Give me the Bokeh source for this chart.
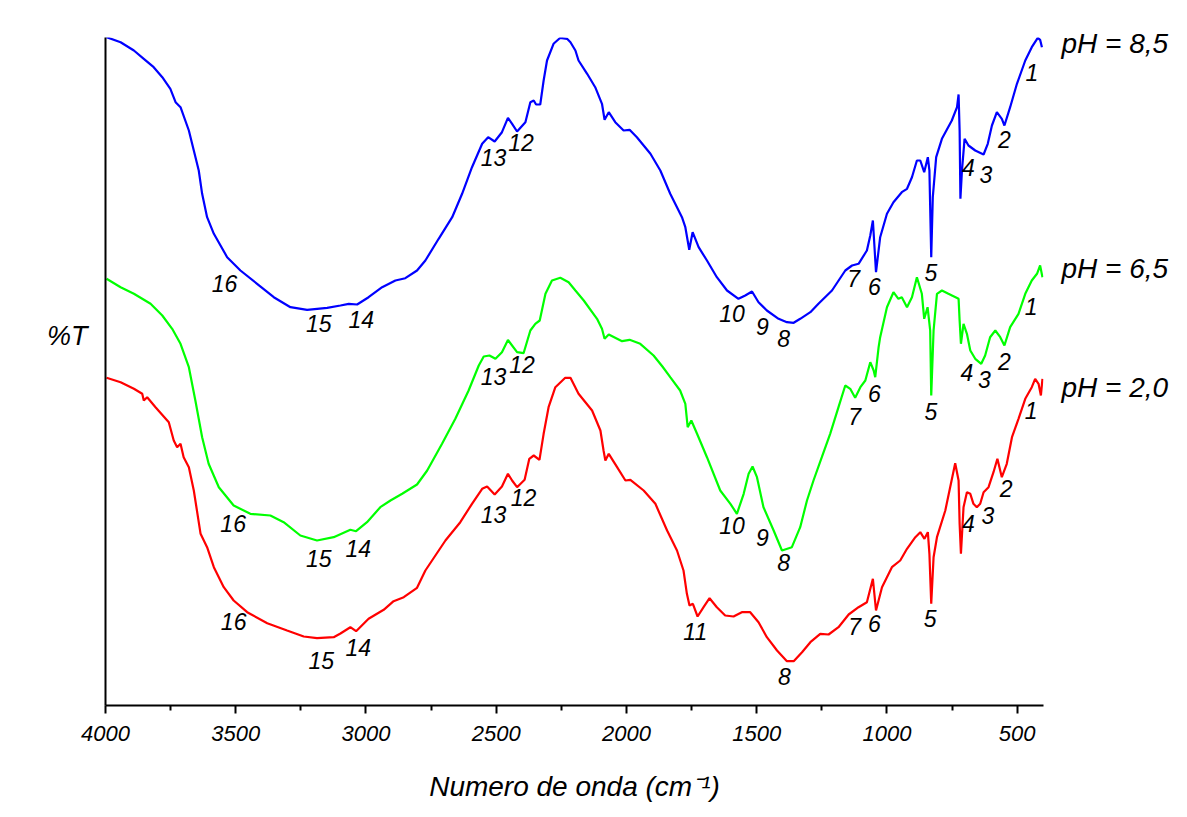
from bokeh.plotting import figure
from bokeh.models import Range1d, FixedTicker, ColumnDataSource, LinearAxis
from bokeh.core.properties import value
from bokeh.embed import file_html
from bokeh.resources import INLINE

# ---------------- data (wavenumber in cm-1, %T in arbitrary offset units) ----------------
blue_wn = [3996, 3942, 3891, 3853, 3815, 3782, 3751, 3731, 3712, 3680,
           3661, 3642, 3629, 3610, 3584, 3533, 3482, 3418, 3354, 3290,
           3226, 3149, 3098, 3066, 3034, 2990, 2938, 2887, 2849, 2804,
           2772, 2721, 2669, 2631, 2593, 2554, 2531, 2506, 2478, 2455,
           2439, 2420, 2388, 2369, 2356, 2347, 2331, 2318, 2305, 2280,
           2254, 2228, 2215, 2196, 2184, 2151, 2120, 2094, 2084, 2068,
           2043, 2011, 1988, 1960, 1908, 1870, 1832, 1787, 1774, 1759,
           1746, 1723, 1691, 1653, 1614, 1570, 1544, 1518, 1493, 1461,
           1416, 1384, 1358, 1333, 1294, 1263, 1211, 1160, 1134, 1109,
           1077, 1064, 1054, 1042, 1026, 1000, 975, 943, 923, 904,
           885, 872, 857, 843, 837, 830, 824, 811, 789, 751,
           731, 725, 721, 718, 712, 702, 687, 661, 629, 613,
           597, 578, 559, 549, 527, 501, 469, 444, 421, 412,
           405]
blue_T = [668.3, 663.3, 655, 646.7, 638.3, 628.3, 616.7, 603.3, 598.3, 575,
          555, 535, 511.7, 488.3, 471.7, 448.3, 435, 421.7, 408.3, 398.3,
          395.7, 397.7, 400, 401.7, 401, 408.3, 418.3, 425, 427.3, 435,
          445, 466.7, 488.3, 511.7, 538.3, 561.7, 568.3, 564, 573.3, 587.7,
          581.7, 574, 583.3, 603.3, 605, 601, 601, 625, 645, 661.7,
          667.7, 666.7, 663.3, 655, 645, 631.7, 618.3, 601.7, 585.7, 593.3,
          583.3, 575, 575.7, 568.3, 551.7, 535, 511.7, 488.3, 478.3, 455.7,
          473.3, 458.3, 445, 428.3, 415, 406.7, 410, 414, 403.3, 395,
          386.7, 383.3, 382.7, 386.7, 393.3, 401.7, 415, 435, 440, 441.7,
          455, 470, 485, 433.3, 468.3, 491.7, 503.3, 513.3, 516.7, 528.3,
          545, 545, 533.3, 548.3, 535, 448.3, 508.3, 548.3, 566.7, 585,
          598.3, 611, 575, 506.7, 535, 566.7, 560, 555, 551, 561.7,
          580, 593.3, 586.7, 580, 598.3, 621.7, 645, 658.3, 667.7, 665.7,
          658.3]

green_wn = [3996, 3942, 3891, 3827, 3782, 3744, 3712, 3680, 3655, 3629,
            3604, 3565, 3508, 3444, 3367, 3316, 3252, 3188, 3124, 3060,
            3038, 2996, 2945, 2906, 2861, 2804, 2765, 2708, 2657, 2606,
            2567, 2548, 2526, 2503, 2478, 2455, 2420, 2395, 2369, 2350,
            2333, 2311, 2286, 2254, 2222, 2196, 2164, 2113, 2094, 2084,
            2068, 2017, 1988, 1947, 1896, 1862, 1832, 1794, 1774, 1765,
            1751, 1729, 1691, 1640, 1601, 1576, 1550, 1531, 1516, 1499,
            1474, 1435, 1403, 1365, 1333, 1307, 1282, 1250, 1218, 1186,
            1160, 1141, 1122, 1102, 1083, 1064, 1051, 1045, 1032, 1026,
            1000, 975, 956, 943, 923, 904, 885, 866, 857, 844,
            834, 830, 821, 808, 789, 764, 725, 721, 716, 706,
            693, 680, 661, 638, 623, 604, 584, 565, 549, 527,
            495, 469, 444, 424, 412, 403]
green_T = [426.7, 418.3, 411.7, 401.7, 390, 376.7, 361.7, 338.3, 305, 268.3,
           241.7, 218.3, 200, 191.7, 190, 183.3, 170, 165, 168.3, 175.7,
           174.3, 183.3, 198.3, 205, 211.7, 221, 235, 261.7, 286.7, 315,
           340, 349, 350, 346.7, 353.3, 365.5, 353.3, 352.3, 375, 381.7,
           385, 411.7, 425, 427.7, 423.3, 415, 405, 386.7, 376.7, 366.7,
           371, 364.3, 365.7, 361.7, 350, 339, 328.3, 315, 301.7, 278.3,
           285, 271.7, 248.3, 215, 201.7, 191.7, 211.7, 231.7, 239, 228.3,
           198.3, 175, 155, 158.3, 178.3, 205, 225, 248.3, 271.7, 298.3,
           320, 316.7, 307.7, 318.3, 325, 343.3, 335, 328.3, 358.3, 368.3,
           398.3, 413.3, 406.7, 408.3, 398.3, 408.3, 428.3, 411.7, 386.7, 398.3,
           375, 310, 375, 411.7, 415, 411.7, 406.7, 385, 361.7, 381.7,
           371.7, 355, 346.7, 341.7, 350, 368.3, 375, 368.3, 360, 378.3,
           391.7, 411.7, 425, 431.7, 440, 428.3]

red_wn = [3996, 3942, 3891, 3859, 3853, 3840, 3808, 3757, 3738, 3725,
          3712, 3700, 3680, 3661, 3635, 3610, 3584, 3546, 3508, 3456,
          3379, 3303, 3239, 3188, 3124, 3098, 3060, 3038, 2990, 2932,
          2894, 2855, 2804, 2772, 2695, 2638, 2593, 2554, 2535, 2506,
          2478, 2455, 2439, 2420, 2391, 2373, 2356, 2334, 2318, 2299,
          2273, 2235, 2215, 2184, 2132, 2100, 2088, 2081, 2068, 2036,
          2004, 1985, 1934, 1889, 1844, 1806, 1781, 1768, 1758, 1745,
          1727, 1704, 1681, 1653, 1621, 1589, 1557, 1525, 1493, 1461,
          1422, 1384, 1358, 1326, 1294, 1256, 1224, 1186, 1147, 1109,
          1077, 1054, 1042, 1019, 981, 949, 923, 891, 872, 856,
          843, 837, 830, 821, 808, 776, 738, 725, 721, 716,
          706, 693, 680, 668, 655, 642, 629, 610, 591, 576,
          559, 540, 520, 495, 469, 444, 431, 418, 409, 403]
red_T = [327.7, 323.3, 316.7, 311.7, 305, 308.3, 298.3, 283.3, 265, 258.3,
         261.7, 248.3, 238.3, 215, 171.7, 158.3, 138.3, 118.3, 105, 93.3,
         82.3, 75, 69, 67.3, 68.3, 72, 78.3, 74.3, 86.7, 95.7,
         104.3, 108.3, 117.7, 135, 165, 183.3, 201.7, 216.7, 219, 211,
         219, 231.7, 225, 218.3, 225.7, 246.7, 250, 245.7, 271.7, 298.3,
         318.3, 327.7, 327.7, 311.7, 295, 275, 255, 245, 251.7, 238.3,
         225, 225.7, 215, 201.7, 175, 155, 135, 111.7, 100, 101.7,
         89, 98.3, 107.3, 98.3, 90, 89, 93.3, 93.3, 83.3, 68.3,
         55, 44.3, 44.3, 53.3, 63.3, 71.7, 71, 78.3, 91, 98.3,
         103.3, 126.7, 95, 118.3, 138.3, 145, 156.7, 168.3, 173.3, 166.7,
         173.3, 151.7, 101.7, 148.3, 168.3, 195, 242.3, 225, 181.7, 151.7,
         198.3, 213.3, 211.7, 201.7, 198.3, 201.7, 213.3, 218.3, 233.3, 246.7,
         228.3, 241.7, 268.3, 286.7, 306.7, 318.3, 326.7, 321.7, 310, 326.7]

# band numbers (label, wavenumber, %T position)
blue_lab = ["16", "15", "14", "13", "12", "10", "9", "8", "7", "6", "5", "4", "3", "2", "1"]
blue_lab_wn = [3543, 3181, 3018, 2510, 2405, 1595, 1478, 1397, 1128, 1048, 831, 687, 620, 549, 444]
blue_lab_T = [421.7, 382.3, 385.7, 547.7, 562.7, 391.7, 379.3, 366.7, 426.7, 419, 433.3, 537.7, 531, 565.7, 633.3]

green_lab = ["16", "15", "14", "13", "12", "10", "9", "8", "7", "6", "5", "4", "3", "2", "1"]
green_lab_wn = [3510, 3181, 3030, 2510, 2401, 1595, 1478, 1397, 1124, 1048, 831, 693, 626, 549, 446]
green_lab_T = [181.7, 146.7, 156.7, 329, 341, 180, 168.3, 143.3, 289, 311.7, 294.3, 333.3, 325.7, 344.3, 399]

red_lab = ["16", "15", "14", "13", "12", "11", "8", "7", "6", "5", "4", "3", "2", "1"]
red_lab_wn = [3508, 3172, 3030, 2510, 2395, 1736, 1394, 1124, 1048, 834, 687, 612, 542, 446]
red_lab_T = [84.3, 45, 57.7, 191, 207.7, 74.3, 29, 79, 81.7, 86.7, 182.3, 190, 216.7, 295]

series_names = ["pH = 8,5", "pH = 6,5", "pH = 2,0"]
series_name_T = [662, 437, 318]

y_title = "%T"
y_title_T = 370

major_ticks = [4000, 3500, 3000, 2500, 2000, 1500, 1000, 500]
minor_ticks = [3750, 3250, 2750, 2250, 1750, 1250, 750]

# ---------------- figure ----------------
FONT = "Liberation Sans"

p = figure(width=1187, height=817, output_backend="svg", toolbar_location=None,
           x_range=Range1d(4000, 399), y_range=Range1d(0, 668),
           min_border_left=105, min_border_right=144,
           min_border_top=37, min_border_bottom=112)
p.outline_line_color = None
p.grid.visible = False
p.background_fill_color = "white"
p.border_fill_color = "white"

xa = p.xaxis[0]
xa.ticker = FixedTicker(ticks=major_ticks, minor_ticks=minor_ticks)
xa.axis_line_width = 2
xa.axis_line_color = "black"
xa.major_tick_line_width = 2
xa.minor_tick_line_width = 2
xa.major_tick_in = 0
xa.major_tick_out = 8
xa.minor_tick_in = 0
xa.minor_tick_out = 5
xa.major_label_text_font = FONT
xa.major_label_text_font_style = "italic"
xa.major_label_text_font_size = "22px"
xa.major_label_text_color = "black"
xa.major_label_standoff = 12
xa.axis_label = "Numero de onda (cm\u207b\u00b9)"
xa.axis_label_text_font = FONT
xa.axis_label_text_font_style = "italic"
xa.axis_label_text_font_size = "28px"
xa.axis_label_text_color = "black"
xa.axis_label_standoff = 27

# left axis: bare line, with the "%T" title as its only label
ya = p.yaxis[0]
ya.ticker = FixedTicker(ticks=[y_title_T])
ya.major_label_overrides = {y_title_T: y_title}
ya.axis_line_width = 2
ya.axis_line_color = "black"
ya.major_tick_line_color = None
ya.minor_tick_line_color = None
ya.major_tick_out = 0
ya.major_tick_in = 0
ya.major_label_orientation = "horizontal"
ya.major_label_standoff = 18
ya.major_label_text_font = FONT
ya.major_label_text_font_style = "italic"
ya.major_label_text_font_size = "27px"
ya.major_label_text_color = "black"

# right axis: carries the series names at the curve ends
ra = LinearAxis(ticker=FixedTicker(ticks=series_name_T),
                major_label_overrides=dict(zip(series_name_T, series_names)),
                axis_line_color=None, major_tick_line_color=None,
                minor_tick_line_color=None, major_tick_out=0, major_tick_in=0,
                major_label_standoff=18, major_label_orientation="horizontal",
                major_label_text_font=FONT, major_label_text_font_style="italic",
                major_label_text_font_size="28px", major_label_text_color="black")
p.add_layout(ra, "right")

p.line(red_wn, red_T, line_color="#FF0000", line_width=2.2)
p.line(green_wn, green_T, line_color="#00FF00", line_width=2.2)
p.line(blue_wn, blue_T, line_color="#0000FF", line_width=2.2)

for labs, xs, ys in [(blue_lab, blue_lab_wn, blue_lab_T),
                     (green_lab, green_lab_wn, green_lab_T),
                     (red_lab, red_lab_wn, red_lab_T)]:
    src = ColumnDataSource(dict(x=xs, y=ys, t=labs))
    p.text(x="x", y="y", text="t", source=src, text_font=value(FONT),
           text_font_style="italic", text_font_size="23px", text_color="black",
           text_align="center", text_baseline="middle")

open("out.html", "w").write(file_html(p, INLINE))
